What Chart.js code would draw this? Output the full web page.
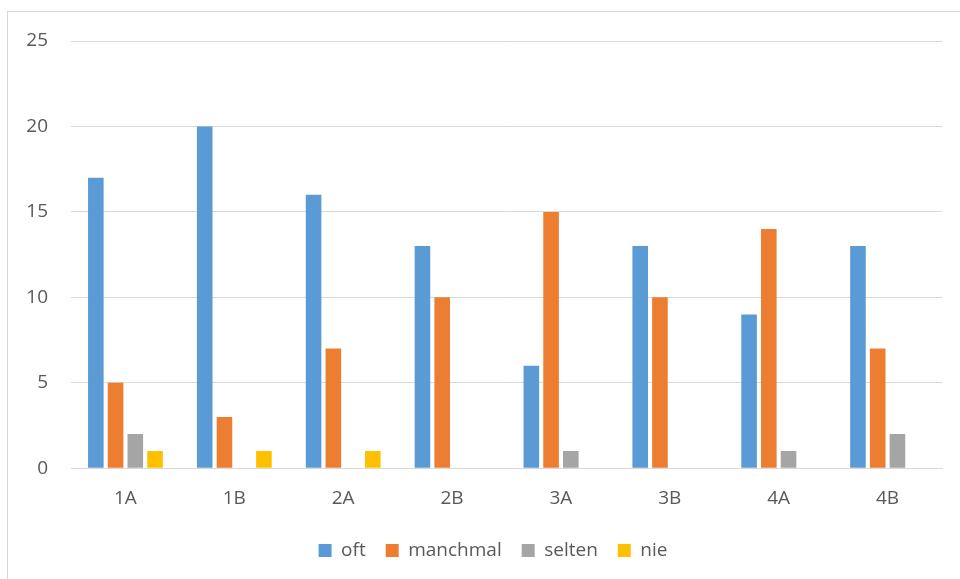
<!DOCTYPE html>
<html>
<head>
<meta charset="utf-8">
<script src="https://cdn.jsdelivr.net/npm/chart.js@4/dist/chart.umd.min.js"></script>
<style>
    html, body { margin: 0; padding: 0; background: #fff; }
    #wrap { position: relative; width: 960px; height: 579px; overflow: hidden; }
    #frame { position: absolute; left: 7px; top: 11px; width: 1000px; height: 1000px; border: 1px solid #d9d9d9; box-sizing: border-box; }
    canvas { position: absolute; left: 0; top: 0; }
</style>
</head>
<body>
<div id="wrap">
    <div id="frame"></div>
    <canvas id="chart" width="960" height="579"></canvas>
</div>
<script>
// Data
const classes = ['1A', '1B', '2A', '2B', '3A', '3B', '4A', '4B'];
const oft = [17, 20, 16, 13, 6, 13, 9, 13];
const manchmal = [5, 3, 7, 10, 15, 10, 14, 7];
const selten = [2, 0, 0, 0, 1, 0, 1, 2];
const nie = [1, 1, 1, 0, 0, 0, 0, 0];

const FONT = "'Open Sans', 'Liberation Sans', sans-serif";
const TEXT = '#595959';

function series(label, data, color) {
    return {
        label: label,
        data: data,
        backgroundColor: color,
        borderWidth: 0,
        categoryPercentage: 0.725,
        barPercentage: 0.79
    };
}

// legend in the original sits a bit right of centre
const legendShift = {
    id: 'legendShift',
    afterLayout(chart) {
        chart.legend.left += 22;
        chart.legend.right += 22;
    }
};

new Chart(document.getElementById('chart'), {
    type: 'bar',
    data: {
        labels: classes,
        datasets: [
            series('oft', oft, '#5B9BD5'),
            series('manchmal', manchmal, '#ED7D31'),
            series('selten', selten, '#A5A5A5'),
            series('nie', nie, '#FFC000')
        ]
    },
    plugins: [legendShift],
    options: {
        responsive: false,
        animation: false,
        layout: { padding: { top: 41, right: 18, bottom: 9, left: 0 } },
        plugins: {
            tooltip: { enabled: false },
            legend: {
                position: 'bottom',
                labels: {
                    boxWidth: 13,
                    boxHeight: 13,
                    padding: 20,
                    color: TEXT,
                    font: { family: FONT, size: 19 }
                }
            }
        },
        scales: {
            x: {
                grid: { display: false },
                border: { display: true, color: '#d9d9d9', width: 1 },
                ticks: { color: TEXT, padding: 11, font: { family: FONT, size: 19 } }
            },
            y: {
                min: 0,
                max: 25,
                ticks: { stepSize: 5, color: TEXT, padding: 23, font: { family: FONT, size: 19 } },
                grid: { color: '#d9d9d9', drawTicks: false },
                border: { display: false },
                afterFit: (axis) => { axis.width = 71; }
            }
        }
    }
});
</script>
</body>
</html>
